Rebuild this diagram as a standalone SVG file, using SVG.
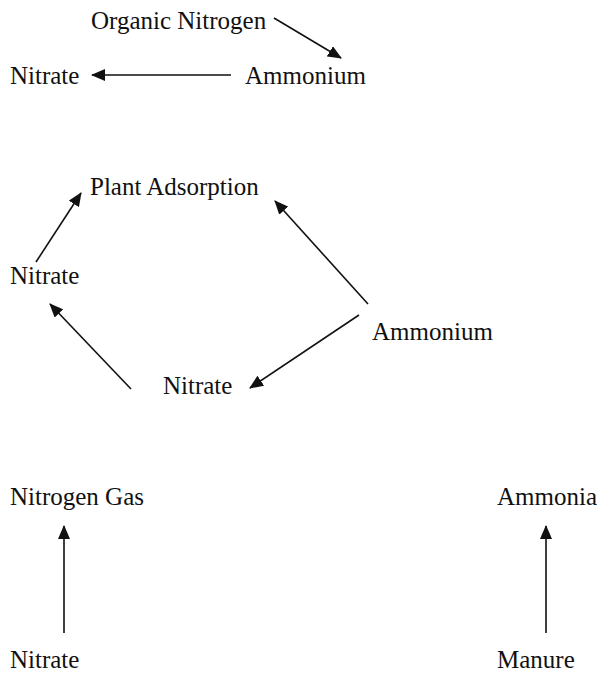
<svg xmlns="http://www.w3.org/2000/svg" width="600" height="673" viewBox="0 0 600 673">
<style>
text{font-family:"Liberation Serif","Times New Roman",serif;font-size:25px;fill:#111}
.c line{stroke:#111;stroke-width:1.6;fill:none;marker-end:url(#ah)}
</style>
<defs>
<marker id="ah" markerUnits="userSpaceOnUse" markerWidth="14" markerHeight="12" viewBox="0 0 14 12" refX="13" refY="6" orient="auto">
<path d="M0,0 L14,6 L0,12 Z" fill="#111"/>
</marker>
</defs>
<rect width="600" height="673" fill="#fff"/>
<g id="n1"><text x="91" y="29">Organic Nitrogen</text></g>
<g id="n2"><text x="10" y="84">Nitrate</text></g>
<g id="n3"><text x="245" y="84">Ammonium</text></g>
<g id="n4"><text x="90" y="195">Plant Adsorption</text></g>
<g id="n5"><text x="10" y="284">Nitrate</text></g>
<g id="n6"><text x="372" y="340">Ammonium</text></g>
<g id="n7"><text x="163" y="394">Nitrate</text></g>
<g id="n8"><text x="10" y="505">Nitrogen Gas</text></g>
<g id="n9"><text x="497" y="505">Ammonia</text></g>
<g id="n10"><text x="10" y="668">Nitrate</text></g>
<g id="n11"><text x="497" y="668">Manure</text></g>
<g class="c" id="connectors">
<line x1="274" y1="18" x2="341" y2="58"/>
<line x1="231" y1="75" x2="92" y2="75"/>
<line x1="36" y1="262" x2="81" y2="193"/>
<line x1="368" y1="304" x2="275" y2="201"/>
<line x1="359" y1="315" x2="250" y2="388"/>
<line x1="131" y1="389" x2="50" y2="304"/>
<line x1="64" y1="633" x2="64" y2="526"/>
<line x1="546" y1="633" x2="546" y2="526"/>
</g>
</svg>
